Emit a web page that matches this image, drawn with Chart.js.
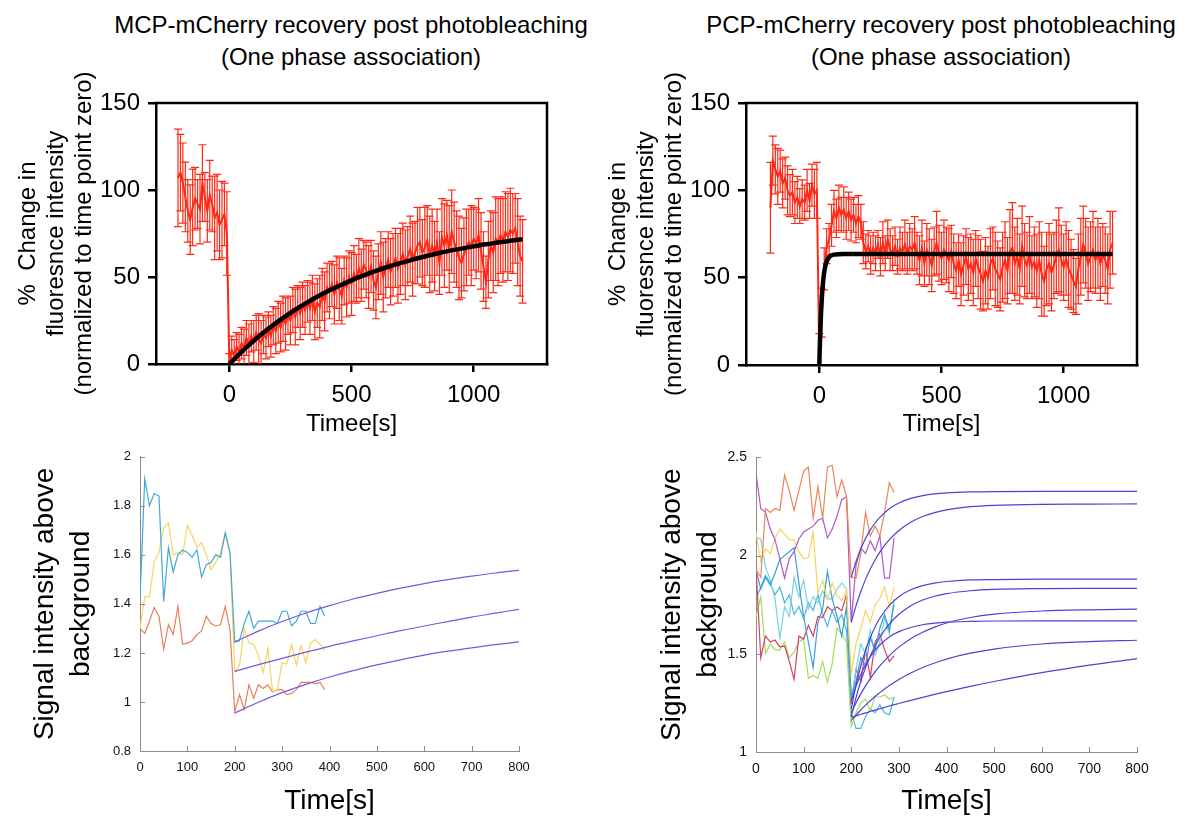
<!DOCTYPE html>
<html>
<head>
<meta charset="utf-8">
<script src="https://cdn.jsdelivr.net/npm/chart.js@4.4.1/dist/chart.umd.min.js"></script>
<style>
body { margin: 0; background: #fff; }
#page { position: relative; width: 1189px; height: 817px; overflow: hidden; font-family: 'Liberation Sans', Arial, sans-serif; }
canvas { position: absolute; }
.ttl { position: absolute; text-align: center; font-size: 24px; line-height: 32px; color: #000; white-space: nowrap; }
</style>
</head>
<body>
<div id="page">
  <div class="ttl" style="left:0;top:9px;width:702px">MCP-mCherry recovery post photobleaching<br>(One phase association)</div>
  <div class="ttl" style="left:693px;top:9px;width:496px">PCP-mCherry recovery post photobleaching<br>(One phase association)</div>
  <canvas id="mcpRecovery" width="590" height="380" style="left:0;top:70px"></canvas>
  <canvas id="pcpRecovery" width="599" height="380" style="left:590px;top:70px"></canvas>
  <canvas id="mcpTraces" width="560" height="377" style="left:0;top:440px"></canvas>
  <canvas id="pcpTraces" width="599" height="377" style="left:590px;top:440px"></canvas>
</div>
<script>
// top row: mean % recovery (with SD) and one phase association fit
const mcpPreTime = [-210,-200,-190,-180,-170,-160,-150,-140,-130,-120,-110,-100,-90,-80,-70,-60,-50,-40,-30,-20,-10];
const pcpPreTime = [-200,-190,-180,-170,-160,-150,-140,-130,-120,-110,-100,-90,-80,-70,-60,-50,-40,-30,-20,-10];
const postTime = [0,10,20,30,40,50,60,70,80,90,
  100,110,120,130,140,150,160,170,180,190,
  200,210,220,230,240,250,260,270,280,290,
  300,310,320,330,340,350,360,370,380,390,
  400,410,420,430,440,450,460,470,480,490,
  500,510,520,530,540,550,560,570,580,590,
  600,610,620,630,640,650,660,670,680,690,
  700,710,720,730,740,750,760,770,780,790,
  800,810,820,830,840,850,860,870,880,890,
  900,910,920,930,940,950,960,970,980,990,
  1000,1010,1020,1030,1040,1050,1060,1070,1080,1090,
  1100,1110,1120,1130,1140,1150,1160,1170,1180,1190,
  1200];

const mcpMean = [107,110,104,96,88,83,90,95,92,89,104,96,88,97,92,84,87,80,83,86,75,
  2,8,5,10,7,12,9,15,11,16, 13,18,14,12,17,15,20,16,22,19, 24,21,26,23,28,25,31,27,33,29,
  34,31,36,32,38,30,35,33,40,36, 44,42,46,40,47,43,39,48,44,50, 46,52,49,55,51,57,54,50,56,48,
  44,53,58,50,55,60,53,57,61,55, 59,63,57,62,66,60,64,68,70,64, 67,71,63,68,62,70,58,73,68,74,
  66,76,70,66,61,58,63,67,70,68, 72,69,74,65,56,47,60,68,64,72, 70,74,71,76,73,77,75,78,70,62,
  59];
const mcpErr = [28,22,23,20,18,20,22,18,14,20,22,14,18,20,16,24,22,20,22,18,24,
  4,8,9,8,10,9,11,10,12,9, 12,10,15,13,11,12,10,12,11,13, 12,14,13,15,11,14,13,16,12,15,
  13,14,12,15,13,16,14,18,15,17, 14,16,13,17,15,18,16,14,17,15, 18,16,14,17,15,14,16,18,15,17,
  18,16,18,20,17,16,19,18,17,20, 19,18,20,17,19,21,18,22,20,19, 23,20,22,21,20,19,18,22,24,20,
  25,24,23,22,24,20,21,22,19,23, 18,20,21,22,20,15,22,20,23,24, 25,22,24,23,25,24,23,20,25,23,
  24];
const mcpFitTime = [0,50,100,150,200,250,300,350,400,450,500,550,600,650,700,750,800,850,900,950,1000,1050,1100,1150,1200];
const mcpFit = [0,7.0,13.3,19.2,24.5,29.4,33.8,37.9,41.6,45.0,48.1,50.9,53.5,55.9,58.0,60.0,61.8,63.5,65.0,66.3,67.6,68.8,69.8,70.8,71.7];

const pcpMean = [90,117,112,108,111,104,107,100,97,99,93,96,91,95,93,100,94,103,98,100,
  3,30,55,68,72,80,88,84,90,86, 89,84,88,83,86,81,85,82,70,65, 68,63,67,64,69,62,70,64,72,66,
  64,68,62,67,65,69,64,68,66,70, 64,60,67,58,66,62,57,65,70,64, 61,66,63,60,65,58,54,60,52,57,
  62,55,58,53,61,56,52,48,54,50, 58,61,55,52,49,56,60,54,65,67, 58,62,55,68,60,57,63,56,59,54,
  60,52,48,55,58,53,57,62,66,60, 56,61,55,52,48,45,55,62,69,64, 58,62,66,60,64,58,63,60,55,66,
  70];
const pcpErr = [26,14,14,16,12,14,12,14,12,13,12,12,10,11,10,12,10,12,14,16,
  15,14,12,10,9,12,12,11,13,10, 13,12,11,12,10,11,12,10,12,10, 9,11,9,10,8,11,12,10,11,12,
  10,11,10,12,11,14,12,13,12,15, 12,14,16,13,15,16,15,14,18,16, 15,17,16,18,15,17,16,15,18,17,
  16,18,17,19,16,18,20,17,19,18, 20,18,21,19,18,20,22,19,24,26, 21,22,20,23,21,19,22,18,20,21,
  22,24,20,21,23,22,19,21,24,20, 19,21,22,20,18,16,20,22,22,20, 21,20,22,19,20,21,18,19,20,22,
  18];
const pcpFitTime = [0,2,5,10,15,20,25,30,40,50,60,80,100,200,400,600,800,1000,1200];
const pcpFit = [0,10.5,23,37.7,47.1,53,56.8,59.2,61.8,62.8,63.2,63.45,63.5,63.5,63.5,63.5,63.5,63.5,63.5];

const topXTicks = [0, 500, 1000];

// bottom row: single-cell traces and their fits
const mcpTraceTime = [0,10,20,30,40,50,60,70,80,90,100,110,120,130,140,150,160,170,180,190,
  200,210,220,230,240,250,260,270,280,290,300,310,320,330,340,350,360,370,380,390];
const mcpBlue = [1.42,1.91,1.80,1.85,1.84,1.41,1.63,1.53,1.60,1.62,1.61,1.59,1.62,1.51,1.56,1.57,1.60,1.59,1.69,1.61,
  1.245,1.25,1.32,1.37,1.30,1.33,1.33,1.33,1.33,1.32,1.37,1.37,1.31,1.33,1.37,1.37,1.32,1.32,1.39,1.35];
const mcpYellow = [1.30,1.43,1.43,1.57,1.61,1.71,1.73,1.60,1.61,1.60,1.72,1.68,1.63,1.65,1.60,1.54,1.57,1.61,1.69,1.60,
  1.125,1.15,1.30,1.24,1.235,1.19,1.12,1.22,1.04,1.05,1.16,1.155,1.235,1.15,1.23,1.16,1.24,1.255,1.235,1.21];
const mcpOrange = [1.30,1.28,1.33,1.385,1.35,1.215,1.315,1.275,1.39,1.235,1.24,1.25,1.275,1.29,1.35,1.32,1.31,1.315,1.39,1.295,
  0.96,1.03,0.97,1.07,1.015,1.07,1.055,1.07,1.04,1.05,1.05,1.03,1.035,1.05,1.08,1.08,1.08,1.075,1.08,1.05];
const mcpFitTime2 = [200,250,300,350,400,450,500,550,600,650,700,750,800];
const mcpFitBlue = [1.245,1.289,1.328,1.363,1.393,1.420,1.443,1.464,1.483,1.499,1.513,1.526,1.537];
const mcpFitYellow = [1.125,1.152,1.178,1.203,1.227,1.249,1.270,1.291,1.310,1.328,1.346,1.362,1.378];
const mcpFitOrange = [0.955,0.999,1.038,1.072,1.102,1.128,1.151,1.172,1.191,1.207,1.221,1.234,1.245];

const pcpTraceTime = [0,10,20,30,40,50,60,70,80,90,100,110,120,130,140,150,160,170,180,190,
  200,210,220,230,240,250,260,270,280,290];
const pcpOrange = [1.93,1.89,2.24,2.22,2.24,2.23,2.41,2.33,2.23,2.33,2.43,2.45,2.19,2.35,2.19,2.45,2.46,2.30,2.385,2.30,
  1.89,1.885,2.01,2.22,2.10,2.15,2.10,2.22,2.37,2.32];
const pcpPurple = [2.42,2.24,2.22,2.135,2.08,1.985,1.885,1.985,2.02,2.085,2.12,2.135,2.15,2.18,2.19,2.09,2.135,2.20,2.285,2.30,
  1.66,1.95,2.04,2.01,2.075,2.025,2.10,1.885,1.885,2.09];
const pcpYellow = [2.12,1.97,2.035,2.01,2.09,2.135,2.11,2.08,2.08,2.02,1.985,1.99,2.12,1.81,1.875,1.78,1.86,1.80,1.77,1.82,
  1.40,1.55,1.63,1.72,1.66,1.75,1.78,1.84,1.74,1.84];
const pcpBlue = [1.93,1.83,1.89,1.85,1.91,1.98,2.00,2.02,2.04,1.86,1.69,1.56,1.43,1.66,1.73,1.92,1.78,1.69,1.59,1.74,
  1.28,1.36,1.48,1.44,1.58,1.52,1.63,1.70,1.62,1.75];
const pcpCyan = [2.09,2.085,1.94,1.875,1.78,1.58,1.74,1.69,1.89,1.79,1.875,1.73,1.79,1.76,1.82,1.78,1.78,1.83,1.86,1.83,
  1.26,1.42,1.55,1.50,1.62,1.49,1.56,1.68,1.60,1.78];
const pcpCrimson = [1.94,1.48,1.59,1.56,1.57,1.535,1.54,1.46,1.37,1.59,1.575,1.645,1.59,1.69,1.685,1.74,1.72,1.74,1.72,1.80,
  1.245,1.42,1.36,1.52,1.38,1.56,1.60,1.52,1.46,1.49];
const pcpGreen = [1.69,1.79,1.50,1.55,1.52,1.52,1.56,1.48,1.51,1.56,1.575,1.375,1.39,1.375,1.46,1.355,1.45,1.63,1.60,1.56,
  1.13,1.20,1.25,1.27,1.21,1.28,1.28,1.29,1.27,1.28];
const pcpSky = [1.78,1.84,1.90,1.86,1.80,1.84,1.76,1.80,1.70,1.74,1.68,1.76,1.72,1.80,1.70,1.64,1.72,1.66,1.70,1.62,
  1.20,1.12,1.12,1.18,1.22,1.20,1.24,1.20,1.19,1.28];
const pcpFitTime2 = [200,210,220,230,240,250,260,280,300,325,350,375,400,450,500,600,700,800];
const pcpFits = [
  [1.890,1.969,2.034,2.087,2.131,2.166,2.195,2.239,2.268,2.291,2.305,2.314,2.319,2.324,2.326,2.327,2.327,2.327],
  [1.660,1.744,1.816,1.879,1.932,1.978,2.018,2.081,2.128,2.170,2.199,2.219,2.233,2.249,2.256,2.261,2.262,2.263],
  [1.220,1.340,1.438,1.518,1.583,1.637,1.681,1.747,1.791,1.826,1.847,1.860,1.868,1.876,1.878,1.880,1.880,1.880],
  [1.180,1.277,1.359,1.429,1.489,1.540,1.583,1.651,1.701,1.745,1.774,1.793,1.806,1.821,1.828,1.832,1.833,1.833],
  [1.200,1.250,1.296,1.337,1.374,1.408,1.438,1.491,1.534,1.577,1.610,1.636,1.657,1.685,1.702,1.718,1.724,1.727],
  [1.260,1.334,1.395,1.444,1.485,1.518,1.545,1.586,1.613,1.634,1.648,1.656,1.661,1.665,1.667,1.668,1.668,1.668],
  [1.160,1.188,1.214,1.239,1.261,1.283,1.302,1.338,1.369,1.402,1.430,1.453,1.473,1.503,1.524,1.550,1.562,1.569],
  [1.177,1.184,1.192,1.199,1.206,1.213,1.220,1.234,1.247,1.263,1.278,1.293,1.307,1.334,1.359,1.404,1.442,1.475]
];

Chart.defaults.font.family = "'Liberation Sans', Arial, sans-serif";
Chart.defaults.color = '#000';
Chart.defaults.animation = false;

function pts(xs, ys) {
  return xs.map((x, i) => ({ x: x, y: ys[i] }));
}
// plain numbers: 1000 not 1,000 and 2 not 2.0
const plainLabel = v => String(Math.round(v * 100) / 100);

// vertical SD bars with caps, drawn from each point's value +/- error
const errorBars = {
  id: 'errorBars',
  afterDatasetDraw(chart, args) {
    const ds = chart.data.datasets[args.index];
    if (!ds.errorBars) return;
    const { ctx, chartArea: a, scales: { x, y } } = chart;
    ctx.save();
    ctx.beginPath();
    ctx.rect(a.left, a.top, a.width, a.height);
    ctx.clip();
    ctx.strokeStyle = ds.borderColor;
    ctx.lineWidth = 1.2;
    ctx.beginPath();
    ds.data.forEach((p, i) => {
      const e = ds.errorBars[i];
      const px = x.getPixelForValue(p.x);
      const top = y.getPixelForValue(p.y + e);
      const bot = y.getPixelForValue(p.y - e);
      ctx.moveTo(px, top); ctx.lineTo(px, bot);
      ctx.moveTo(px - 4, top); ctx.lineTo(px + 4, top);
      ctx.moveTo(px - 4, bot); ctx.lineTo(px + 4, bot);
    });
    ctx.stroke();
    ctx.restore();
  }
};

// closes the plot box on top and right
const boxFrame = {
  id: 'boxFrame',
  afterDraw(chart) {
    const { ctx, chartArea: a } = chart;
    ctx.save();
    ctx.strokeStyle = '#000';
    ctx.lineWidth = 2.5;
    ctx.beginPath();
    ctx.moveTo(a.left - 1.25, a.top);
    ctx.lineTo(a.right, a.top);
    ctx.lineTo(a.right, a.bottom + 1.25);
    ctx.stroke();
    ctx.restore();
  }
};

// small ticks pointing into the plot (matlab style)
const inTicks = {
  id: 'inTicks',
  afterDraw(chart) {
    const { ctx, chartArea: a, scales: { x, y } } = chart;
    ctx.save();
    ctx.strokeStyle = '#8c8c8c';
    ctx.lineWidth = 1;
    ctx.beginPath();
    x.ticks.forEach(t => {
      const px = Math.round(x.getPixelForValue(t.value)) + 0.5;
      ctx.moveTo(px, a.bottom); ctx.lineTo(px, a.bottom - 5);
    });
    y.ticks.forEach(t => {
      const py = Math.round(y.getPixelForValue(t.value)) + 0.5;
      ctx.moveTo(a.left, py); ctx.lineTo(a.left + 5, py);
    });
    ctx.stroke();
    ctx.restore();
  }
};

function recoveryChart(id, time, mean, err, fitTime, fit, xTitle, padRight, xHeight) {
  const axisFont = { size: 24 };
  return new Chart(document.getElementById(id), {
    type: 'line',
    data: {
      datasets: [
        { label: 'One phase association', data: pts(fitTime, fit), borderColor: '#000', borderWidth: 4.5,
          pointRadius: 0, cubicInterpolationMode: 'monotone' },
        { label: 'Mean', data: pts(time, mean), borderColor: 'rgb(255,40,20)', borderWidth: 2,
          pointRadius: 0, errorBars: err }
      ]
    },
    options: {
      responsive: false,
      events: [],
      layout: { padding: { top: 33, right: padRight, bottom: 0, left: 0 } },
      plugins: { legend: { display: false }, tooltip: { enabled: false } },
      scales: {
        x: {
          type: 'linear', min: -300, max: 1300,
          afterBuildTicks: axis => { axis.ticks = topXTicks.map(v => ({ value: v })); },
          afterFit: axis => { axis.height = xHeight; },
          grid: { display: true, drawOnChartArea: false, drawTicks: true, tickLength: 8, color: '#000', lineWidth: 2.5 },
          border: { display: true, color: '#000', width: 2.5 },
          ticks: { font: axisFont, padding: 9, maxRotation: 0, color: '#000', callback: plainLabel },
          title: { display: true, text: xTitle, font: { size: 24, lineHeight: 1.2 }, color: '#000', padding: { top: 0, bottom: 11 } }
        },
        y: {
          min: 0, max: 150,
          afterFit: axis => { axis.width = 156; },
          grid: { display: true, drawOnChartArea: false, drawTicks: true, tickLength: 8, color: '#000', lineWidth: 2.5 },
          border: { display: true, color: '#000', width: 2.5 },
          ticks: { stepSize: 50, font: axisFont, padding: 8, color: '#000', callback: plainLabel },
          title: {
            display: true,
            text: ['%  Change in', 'fluoresnce intensity', '(normalized to time point zero)'],
            font: { size: 24, lineHeight: 1.17 }, color: '#000', padding: { top: 14, bottom: 0 }
          }
        }
      }
    },
    plugins: [errorBars, boxFrame]
  });
}

function traceChart(id, datasets, yMin, yMax, yStep, yWidth, pad, yTitlePad, tickSize) {
  return new Chart(document.getElementById(id), {
    type: 'line',
    data: { datasets: datasets },
    options: {
      responsive: false,
      events: [],
      layout: { padding: { top: pad.top, right: pad.right, bottom: 0, left: 0 } },
      plugins: { legend: { display: false }, tooltip: { enabled: false } },
      scales: {
        x: {
          type: 'linear', min: 0, max: 800,
          afterFit: axis => { axis.height = pad.xHeight; },
          grid: { display: false, drawTicks: false },
          border: { display: true, color: '#8c8c8c', width: 1 },
          ticks: { stepSize: 100, font: { size: tickSize }, padding: 9, maxRotation: 0, color: '#111', callback: plainLabel },
          title: { display: true, text: 'Time[s]', font: { size: 28, lineHeight: 1.1 }, color: '#000', padding: { top: 0, bottom: 0 } }
        },
        y: {
          min: yMin, max: yMax,
          afterFit: axis => { axis.width = yWidth; },
          grid: { display: false, drawTicks: false },
          border: { display: true, color: '#8c8c8c', width: 1 },
          ticks: { stepSize: yStep, font: { size: tickSize }, padding: 9, color: '#111', callback: plainLabel },
          title: {
            display: true, text: ['Signal intensity above', 'background'],
            font: { size: 28, lineHeight: 1.3 }, color: '#000', padding: { top: yTitlePad, bottom: 0 }
          }
        }
      }
    },
    plugins: [inTicks]
  });
}

function trace(label, xs, ys, color) {
  return { label: label, data: pts(xs, ys), borderColor: color, borderWidth: 1.2, pointRadius: 0, tension: 0 };
}
function fitLine(label, xs, ys, color) {
  return { label: label, data: pts(xs, ys), borderColor: color, borderWidth: 1.2, pointRadius: 0, cubicInterpolationMode: 'monotone' };
}

recoveryChart('mcpRecovery', mcpPreTime.concat(postTime), mcpMean, mcpErr, mcpFitTime, mcpFit, 'Timee[s]', 43, 86);
recoveryChart('pcpRecovery', pcpPreTime.concat(postTime), pcpMean, pcpErr, pcpFitTime, pcpFit, 'Time[s]', 52, 85);

const mcpFitColor = 'rgb(112,92,226)';
traceChart('mcpTraces', [
  fitLine('fit 1', mcpFitTime2, mcpFitBlue, mcpFitColor),
  fitLine('fit 2', mcpFitTime2, mcpFitYellow, mcpFitColor),
  fitLine('fit 3', mcpFitTime2, mcpFitOrange, mcpFitColor),
  trace('cell 1', mcpTraceTime, mcpBlue, 'rgb(66,168,218)'),
  trace('cell 2', mcpTraceTime, mcpYellow, 'rgb(245,212,96)'),
  trace('cell 3', mcpTraceTime, mcpOrange, 'rgb(230,128,92)')
], 0.8, 2, 0.2, 140, { top: 10, right: 41, xHeight: 66 }, 27, 13);

const pcpFitColor = 'rgb(78,66,212)';
const pcpCells = [
  ['cell 1', pcpOrange, 'rgb(232,135,90)'],
  ['cell 2', pcpPurple, 'rgb(180,85,200)'],
  ['cell 3', pcpYellow, 'rgb(245,213,90)'],
  ['cell 4', pcpBlue, 'rgb(60,158,215)'],
  ['cell 5', pcpCyan, 'rgb(115,210,232)'],
  ['cell 6', pcpCrimson, 'rgb(210,65,95)'],
  ['cell 7', pcpGreen, 'rgb(168,218,95)'],
  ['cell 8', pcpSky, 'rgb(70,182,224)']
];
traceChart('pcpTraces',
  pcpFits.map((f, i) => fitLine('fit ' + (i + 1), pcpFitTime2, f, pcpFitColor))
    .concat(pcpCells.map(c => trace(c[0], pcpTraceTime, c[1], c[2]))),
  1, 2.5, 0.5, 166, { top: 12, right: 52, xHeight: 65 }, 64, 14);
</script>
</body>
</html>
